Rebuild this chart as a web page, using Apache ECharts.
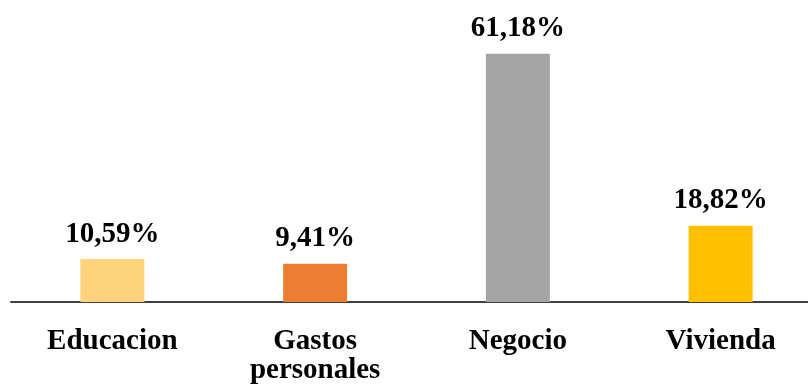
<!DOCTYPE html>
<html>
<head>
<meta charset="utf-8">
<script src="https://cdn.jsdelivr.net/npm/echarts@6/dist/echarts.min.js"></script>
<style>
  html, body { margin: 0; padding: 0; background: #ffffff; }
  #chart { width: 808px; height: 385px; }
</style>
</head>
<body>
<div id="chart"></div>
<script>
// Destino del crédito (porcentaje)
const categories = ['Educacion', 'Gastos\npersonales', 'Negocio', 'Vivienda'];
const values = [10.59, 9.41, 61.18, 18.82];
const barColors = ['#FFD37B', '#ED7D31', '#A5A5A5', '#FFC000'];

const fontFamily = '"Liberation Serif", "Times New Roman", serif';

const chart = echarts.init(document.getElementById('chart'));

chart.setOption({
  animation: false,
  backgroundColor: '#ffffff',
  grid: { left: 11, top: 18, bottom: 83, width: 811, outerBoundsMode: 'none', containLabel: false },
  xAxis: {
    type: 'category',
    data: categories,
    axisLine: { show: true, lineStyle: { color: '#404040', width: 2 } },
    axisTick: { show: false },
    axisLabel: {
      margin: 25,
      color: '#000000',
      fontFamily: fontFamily,
      fontWeight: 'bold',
      fontSize: 29,
      lineHeight: 29,
      interval: 0
    }
  },
  yAxis: {
    type: 'value',
    min: 0,
    max: 70,
    show: false,
    splitLine: { show: false }
  },
  series: [{
    type: 'bar',
    barWidth: 64,
    data: values.map((v, i) => ({ value: v, itemStyle: { color: barColors[i] } })),
    label: {
      show: true,
      position: 'top',
      distance: 11,
      color: '#000000',
      fontFamily: fontFamily,
      fontWeight: 'bold',
      fontSize: 29,
      lineHeight: 28,
      formatter: (p) => p.value.toFixed(2).replace('.', ',') + '%'
    }
  }]
});
</script>
</body>
</html>
